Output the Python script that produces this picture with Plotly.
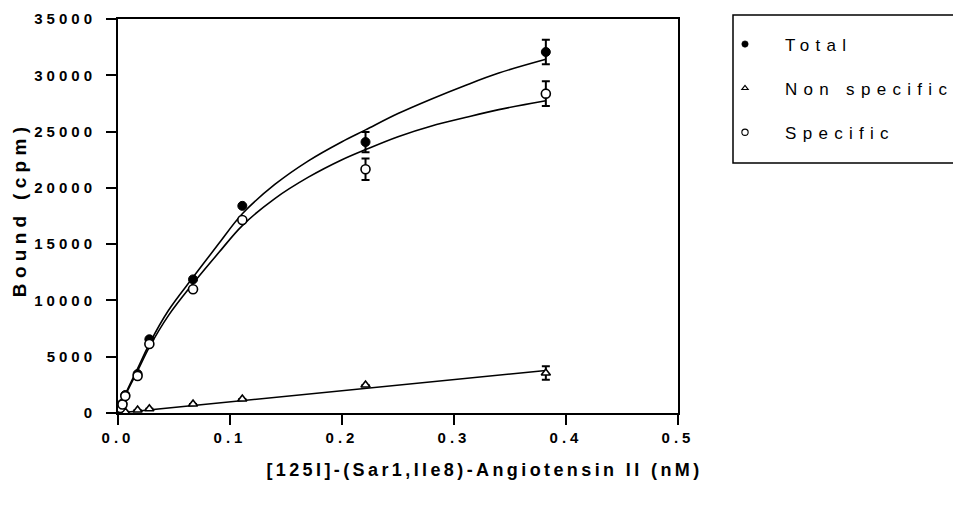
import plotly.graph_objects as go

# ---- data ----
conc = [0.002, 0.004, 0.0065, 0.0175, 0.028, 0.067, 0.111, 0.221, 0.382]
total = [500, 850, 1600, 3460, 6550, 11870, 18400, 24070, 32070]
total_err = [None, None, None, None, None, None, None, 900, 1080]
specific = [450, 760, 1500, 3290, 6130, 10990, 17150, 21650, 28370]
specific_err = [None, None, None, None, None, None, None, 950, 1100]
nonspec = [40, 80, 100, 270, 380, 800, 1240, 2490, 3550]
nonspec_err = [None, None, None, None, None, None, None, None, 600]

# fitted curves
fit_x = [0, 0.0065, 0.0175, 0.028, 0.045, 0.067, 0.09, 0.111, 0.14, 0.17, 0.2, 0.221, 0.25, 0.28, 0.31, 0.34, 0.382]
fit_total = [0, 1650, 3950, 6150, 9100, 12050, 15050, 17700, 20300, 22400, 24100, 25150, 26600, 27900, 29100, 30200, 31420]
fit_specific = [0, 1550, 3750, 5850, 8650, 11500, 14250, 16650, 19050, 20950, 22500, 23400, 24550, 25500, 26250, 26950, 27740]
fit_ns_x = [0, 0.382]
fit_ns = [0, 3780]

x_ticks = [0.0, 0.1, 0.2, 0.3, 0.4, 0.5]
y_ticks = [0, 5000, 10000, 15000, 20000, 25000, 30000, 35000]

x_title = "[125I]-(Sar1,Ile8)-Angiotensin II (nM)"
y_title = "Bound (cpm)"

FONT = "Liberation Sans, Arial, sans-serif"
L, R, T, B = 118, 275, 19, 97
PW, PH = 953 - L - R, 510 - T - B


def px_x(p):
    return (p - L) / PW


def px_y(p):
    return (510 - B - p) / PH


fig = go.Figure()

line_style = dict(color="black", width=1.6, shape="spline")
fig.add_trace(go.Scatter(x=fit_x, y=fit_total, mode="lines", line=line_style,
                         showlegend=False, hoverinfo="skip"))
fig.add_trace(go.Scatter(x=fit_x, y=fit_specific, mode="lines", line=line_style,
                         showlegend=False, hoverinfo="skip"))
fig.add_trace(go.Scatter(x=fit_ns_x, y=fit_ns, mode="lines",
                         line=dict(color="black", width=1.6),
                         showlegend=False, hoverinfo="skip"))

err_style = dict(type="data", color="black", thickness=2, width=4)

fig.add_trace(go.Scatter(
    x=conc, y=total, mode="markers", name="Total", legendgroup="a",
    marker=dict(symbol="circle", size=9, color="black", line=dict(color="black", width=1)),
    error_y=dict(array=total_err, **err_style)))
fig.add_trace(go.Scatter(
    x=conc, y=nonspec, mode="markers", name="Non specific", legendgroup="b",
    marker=dict(symbol="triangle-up", size=8, color="white", line=dict(color="black", width=1.6)),
    error_y=dict(array=nonspec_err, **err_style)))
fig.add_trace(go.Scatter(
    x=conc, y=specific, mode="markers", name="Specific", legendgroup="c",
    marker=dict(symbol="circle", size=9, color="white", line=dict(color="black", width=1.6)),
    error_y=dict(array=specific_err, **err_style)))

axis_common = dict(
    showline=True, linecolor="black", linewidth=2, mirror=True,
    ticks="outside", ticklen=10, tickwidth=2, tickcolor="black",
    showgrid=False, zeroline=False,
    tickfont=dict(family=FONT, size=15, color="black", weight="bold"),
)

fig.update_layout(
    width=953, height=510,
    margin=dict(l=L, r=R, t=T, b=B, autoexpand=False),
    plot_bgcolor="white", paper_bgcolor="white",
    font=dict(family=FONT, color="black"),
    xaxis=dict(range=[0, 0.5], tickvals=x_ticks,
               ticktext=[f"<b>{v:.1f}</b>" for v in x_ticks], **axis_common),
    yaxis=dict(range=[0, 35000], tickvals=y_ticks,
               ticktext=[f"<b>{v}</b>" for v in y_ticks], ticklabelstandoff=7,
               **axis_common),
    legend=dict(x=px_x(705), y=0.981, xanchor="left", yanchor="top",
                font=dict(family=FONT, size=17, color="black"),
                itemwidth=70, tracegroupgap=19, traceorder="grouped",
                bgcolor="rgba(0,0,0,0)", borderwidth=0),
    shapes=[dict(type="rect", xref="paper", yref="paper",
                 x0=px_x(733), x1=px_x(962), y0=px_y(163), y1=px_y(15),
                 line=dict(color="black", width=1.5), fillcolor="rgba(0,0,0,0)")],
    annotations=[
        dict(text=f"<b>{x_title}</b>", xref="paper", yref="paper",
             x=px_x(484), y=px_y(470), xanchor="center", yanchor="middle",
             showarrow=False, font=dict(family=FONT, size=18, color="black")),
        dict(text=f"<b>{y_title}</b>", xref="paper", yref="paper",
             x=px_x(20), y=px_y(210), xanchor="center", yanchor="middle", textangle=-90,
             showarrow=False, font=dict(family=FONT, size=19, color="black")),
    ],
)

post = """
document.body.style.margin = '0';
document.body.style.overflow = 'hidden';
var gd = document.getElementById('{plot_id}');
function sp(sel, v){ gd.querySelectorAll(sel).forEach(function(t){ t.style.letterSpacing = v; }); }
sp('.xtick text', '4px');
sp('.ytick text', '4px');
sp('.legendtext', '6.3px');
gd.querySelectorAll('.annotation-text').forEach(function(t){
  if (t.textContent.indexOf('Bound') >= 0) { t.style.letterSpacing = '5.3px'; }
  else { t.style.letterSpacing = '3.4px'; }
});
gd.querySelectorAll('.legend [clip-path]').forEach(function(e){ e.removeAttribute('clip-path'); });
gd.querySelectorAll('.legend').forEach(function(e){ e.removeAttribute('clip-path'); });
gd.querySelectorAll('.legend .legendpoints path').forEach(function(e){
  var tr = e.getAttribute('transform') || '';
  e.setAttribute('transform', tr + ' scale(0.7)');
});
"""

fig.write_html("out.html", post_script=post, config={"displayModeBar": False})
